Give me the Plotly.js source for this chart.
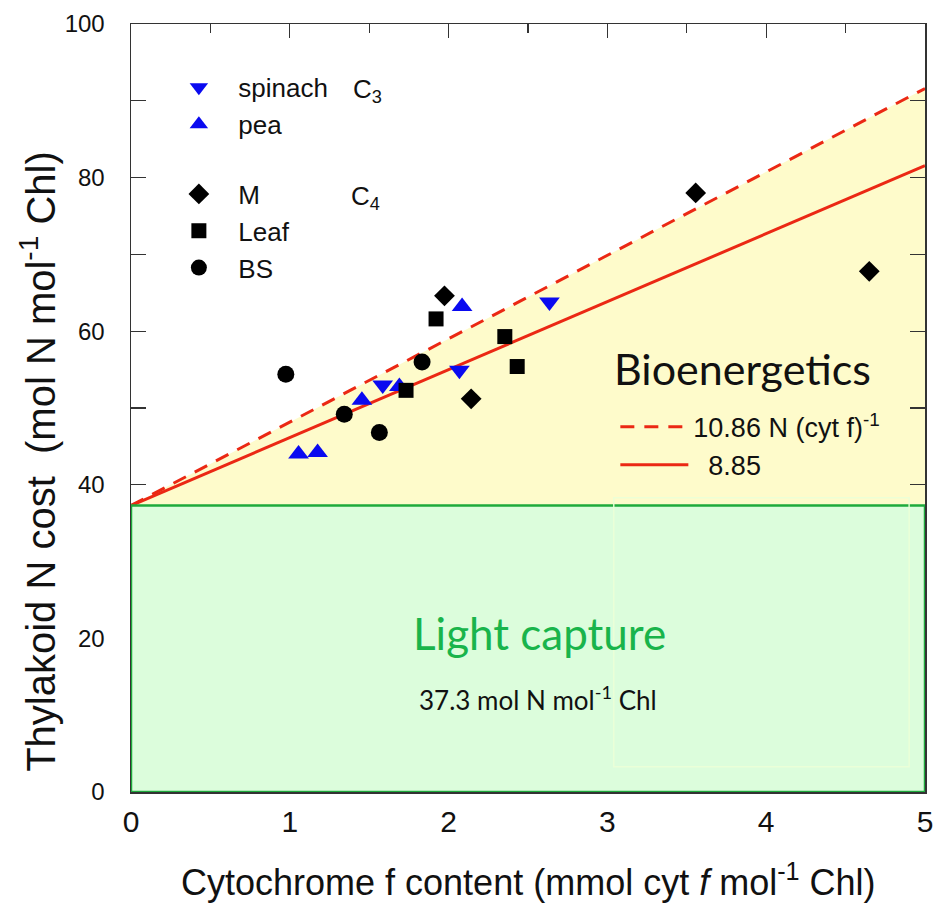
<!DOCTYPE html>
<html>
<head>
<meta charset="utf-8">
<script src="https://cdn.plot.ly/plotly-3.0.1.min.js"></script>
<style>html,body{margin:0;padding:0;background:#fff;}#chart{width:933px;height:906px;}</style>
</head>
<body>
<div id="chart"></div>
<script>
// ---- data ----
const spinachX = [1.585, 2.068, 2.635];
const spinachY = [53.0, 54.9, 63.8];
const peaX = [1.055, 1.175, 1.454, 1.690, 2.085];
const peaY = [44.0, 44.2, 51.0, 52.8, 63.2];
const mX = [1.974, 2.142, 3.556, 4.649];
const mY = [64.6, 51.2, 78.0, 67.8];
const leafX = [1.732, 1.921, 2.354, 2.432];
const leafY = [52.3, 61.6, 59.3, 55.4];
const bsX = [0.975, 1.343, 1.564, 1.833];
const bsY = [54.4, 49.2, 46.8, 56.0];
const lightCapture = 37.3;          // intercept, mol N mol-1 Chl
const slopes = [10.86, 8.85];       // N (cyt f)-1
const xRange = [0, 5];
const yRange = [0, 100];
const xTicks = [0, 1, 2, 3, 4, 5];
const yTicks = [0, 20, 40, 60, 80, 100];

const lineX = [xRange[0], xRange[1]];
const lineY = s => lineX.map(x => lightCapture + s * x);

const RED = 'rgb(235,40,20)';
const BLUE = 'rgb(10,10,240)';

const traces = [
  // yellow bioenergetics wedge
  {x: lineX, y: lineX.map(() => lightCapture), mode: 'lines', line: {width: 0}, showlegend: false, hoverinfo: 'skip'},
  {x: lineX, y: lineY(slopes[0]), mode: 'lines', line: {width: 0}, fill: 'tonexty', fillcolor: 'rgb(254,251,203)', showlegend: false, hoverinfo: 'skip'},
  // fitted lines
  {x: lineX, y: lineY(slopes[0]), mode: 'lines', name: '10.86 N (cyt f)<sup>-1</sup>', legend: 'legend2',
   line: {color: RED, width: 3, dash: '14px,10px'}},
  {x: lineX, y: lineY(slopes[1]), mode: 'lines', name: '&nbsp;&nbsp;8.85', legend: 'legend2',
   line: {color: RED, width: 3}},
  // data
  {x: spinachX, y: spinachY, mode: 'markers', name: '&nbsp;&nbsp;spinach', legendgroup: 'c3',
   marker: {symbol: 'triangle-down', size: 18, color: BLUE}},
  {x: peaX, y: peaY, mode: 'markers', name: '&nbsp;&nbsp;pea', legendgroup: 'c3',
   marker: {symbol: 'triangle-up', size: 18, color: BLUE}},
  {x: mX, y: mY, mode: 'markers', name: '&nbsp;&nbsp;M', legendgroup: 'c4',
   marker: {symbol: 'diamond', size: 16, color: '#000'}},
  {x: leafX, y: leafY, mode: 'markers', name: '&nbsp;&nbsp;Leaf', legendgroup: 'c4',
   marker: {symbol: 'square', size: 15, color: '#000'}},
  {x: bsX, y: bsY, mode: 'markers', name: '&nbsp;&nbsp;BS', legendgroup: 'c4',
   marker: {symbol: 'circle', size: 17, color: '#000'}}
];

const axisCommon = {
  showgrid: false, zeroline: false, showline: true, linecolor: '#333', linewidth: 1.5,
  mirror: 'allticks', ticks: 'inside', tickcolor: '#333', tickwidth: 1.2
};

const layout = {
  width: 933, height: 906,
  margin: {l: 131, r: 8, t: 24, b: 114},
  paper_bgcolor: '#fff', plot_bgcolor: '#fff',
  showlegend: true,
  xaxis: Object.assign({}, axisCommon, {
    range: xRange, tickvals: xTicks, ticklen: 14,
    minor: {dtick: 0.5, ticks: 'inside', ticklen: 9, tickcolor: '#333', tickwidth: 1.2, showgrid: false},
    tickfont: {family: 'Liberation Sans Narrow, Liberation Sans, sans-serif', size: 30, color: '#111'},
    ticklabelstandoff: 2, ticklabeloverflow: 'allow'
  }),
  yaxis: Object.assign({}, axisCommon, {
    range: yRange, tickvals: yTicks, ticklen: 15,
    minor: {dtick: 10, ticks: 'inside', ticklen: 15, tickcolor: '#333', tickwidth: 1.2, showgrid: false},
    tickfont: {family: 'Liberation Sans, Arial, sans-serif', size: 24, color: '#111'},
    ticklabelstandoff: 20, ticklabeloverflow: 'allow'
  }),
  legend: {
    x: 0.054, y: 0.948, xanchor: 'left', yanchor: 'top',
    bgcolor: 'rgba(0,0,0,0)', traceorder: 'grouped', tracegroupgap: 33,
    font: {family: 'Liberation Sans, Arial, sans-serif', size: 26, color: '#111'},
    itemwidth: 40
  },
  legend2: {
    x: 0.61, y: 0.507, xanchor: 'left', yanchor: 'top',
    bgcolor: 'rgba(0,0,0,0)',
    font: {family: 'Liberation Sans, Arial, sans-serif', size: 27, color: '#111'},
    itemwidth: 68
  },
  shapes: [
    {type: 'rect', xref: 'x', yref: 'y', x0: xRange[0], x1: xRange[1], y0: 0, y1: lightCapture,
     fillcolor: 'rgb(220,253,220)', line: {color: 'rgb(30,170,60)', width: 2.5}, layer: 'above'},
    {type: 'rect', xref: 'x', yref: 'y', x0: 3.04, x1: 4.9, y0: 3.3, y1: 38.3,
     fillcolor: 'rgba(0,0,0,0)', line: {color: 'rgba(235,255,215,0.9)', width: 1.5}, layer: 'above'}
  ],
  annotations: [
    {xref: 'paper', yref: 'paper', x: 0.5, y: -0.1146, xanchor: 'center', yanchor: 'middle', showarrow: false,
     text: 'Cytochrome f content (mmol cyt <i>f</i> mol<sup>-1</sup> Chl)',
     font: {family: 'Liberation Sans Narrow, Liberation Sans, sans-serif', size: 36, color: '#111'}},
    {xref: 'paper', yref: 'paper', x: -0.117, y: 0.43, xanchor: 'center', yanchor: 'middle', showarrow: false,
     textangle: -90, text: 'Thylakoid N cost&nbsp;&nbsp;(mol N mol<sup>-1</sup> Chl)',
     font: {family: 'Liberation Sans Narrow, Liberation Sans, sans-serif', size: 40, color: '#111'}},
    {xref: 'paper', yref: 'paper', x: 0.277, y: 0.914, xanchor: 'left', yanchor: 'middle', showarrow: false,
     text: 'C<sub>3</sub>', font: {family: 'Liberation Sans, Arial, sans-serif', size: 26, color: '#111'}},
    {xref: 'paper', yref: 'paper', x: 0.274, y: 0.774, xanchor: 'left', yanchor: 'middle', showarrow: false,
     text: 'C<sub>4</sub>', font: {family: 'Liberation Sans, Arial, sans-serif', size: 26, color: '#111'}},
    {xref: 'paper', yref: 'paper', x: 0.935, y: 0.552, xanchor: 'right', yanchor: 'middle', showarrow: false,
     text: 'Bioenergetics', font: {family: 'Lato, Open Sans, sans-serif', size: 43, color: '#111'}},
    {xref: 'paper', yref: 'paper', x: 0.515, y: 0.207, xanchor: 'center', yanchor: 'middle', showarrow: false,
     text: 'Light capture', font: {family: 'Lato, Open Sans, sans-serif', size: 44, color: 'rgb(25,180,75)'}},
    {xref: 'paper', yref: 'paper', x: 0.513, y: 0.122, xanchor: 'center', yanchor: 'middle', showarrow: false,
     text: '37.3 mol N mol<sup>-1</sup> Chl', font: {family: 'Lato, Open Sans, sans-serif', size: 26, color: '#111'}}
  ]
};

Plotly.newPlot('chart', traces, layout, {displayModeBar: false, staticPlot: true});
</script>
</body>
</html>
